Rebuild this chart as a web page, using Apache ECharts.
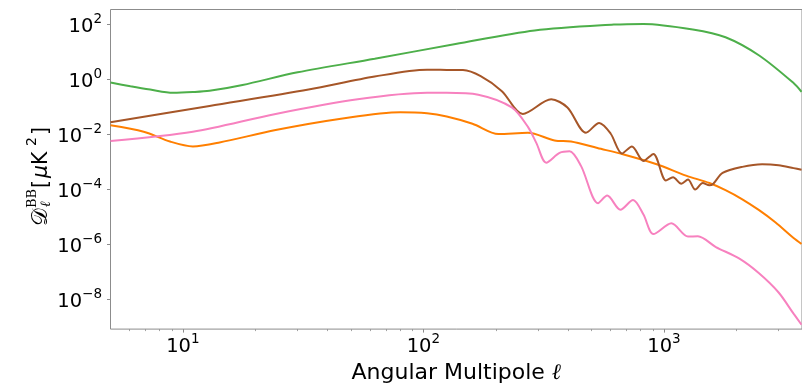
<!DOCTYPE html>
<html>
<head>
<meta charset="utf-8">
<script src="https://cdn.jsdelivr.net/npm/echarts@6/dist/echarts.min.js"></script>
<style>
  html, body { margin: 0; padding: 0; background: #fff; }
  #chart { width: 802px; height: 389px; }
</style>
</head>
<body>
<div id="chart"></div>
<script>
// Axis ranges (multipole ell and band power D_ell^BB in uK^2)
const ELL_MIN = 5;
const ELL_MAX = 3750;
const DL_MIN = 8.5e-10;
const DL_MAX = 354;

// Tick positions
const xMajorTicks = [10, 100, 1000];
const xMinorTicks = [6, 7, 8, 9, 20, 30, 40, 50, 60, 70, 80, 90,
                     200, 300, 400, 500, 600, 700, 800, 900, 2000, 3000];
const yTicks = [1e-8, 1e-6, 1e-4, 1e-2, 1, 100];

// Green spectrum
const greenEll = [5.0, 6.05, 7.31, 9.1, 11.0, 12.9, 17.7, 30.0, 62.7, 136, 290, 619, 822, 1318, 1803, 2489, 3459, 3733];
const greenDl  = [0.78, 0.573, 0.434, 0.331, 0.351, 0.390, 0.637, 1.84, 5.75, 19.6, 61.2, 100, 106, 66.6, 34.7, 7.53, 0.75, 0.36];

// Brown spectrum
const brownEll = [5.0, 12.9, 33.3, 62.7, 103.5, 125, 146, 173, 212, 259, 340, 397, 474, 538, 600, 669, 736, 822, 904,
                  1019, 1091, 1181, 1259, 1349, 1450, 1545, 1604, 1753, 2118, 2560, 2998, 3459, 3733];
const brownDl  = [0.028, 0.110, 0.434, 1.29, 2.29, 2.25, 2.22, 1.33, 0.381, 0.0565, 0.192, 0.0975, 0.0117, 0.0264,
                  0.0110, 0.00206, 0.00373, 0.00110, 0.00199, 0.000215, 0.000281, 0.000164, 0.000233, 0.000101,
                  0.000173, 0.000143, 0.000164, 0.000403, 0.000673, 0.000839, 0.000773, 0.000605, 0.000527];

// Pink spectrum
const pinkEll = [5.0, 11.0, 24.3, 53.3, 103.5, 125, 169, 233, 272, 295, 324, 368, 405, 452, 532, 581, 659, 744, 822,
                 904, 1074, 1259, 1384, 1644, 2052, 2478, 2998, 3459, 3733];
const pinkDl  = [0.00585, 0.0127, 0.0565, 0.192, 0.331, 0.331, 0.282, 0.0975, 0.0191, 0.00489, 0.000955, 0.00216,
                 0.00248, 0.000731, 3.21e-5, 6.07e-5, 1.86e-5, 4.21e-5, 1.24e-5, 2.42e-6, 5.94e-6, 1.97e-6, 2.0e-6,
                 8.18e-7, 3.15e-7, 9.27e-8, 1.82e-8, 3.09e-9, 1.23e-9];

// Orange spectrum
const orangeEll = [5.0, 6.87, 8.84, 11.0, 14.2, 24.3, 45.4, 80.2, 103.5, 125, 160, 205, 272, 351, 411, 529, 680, 933,
                   1236, 1545, 1803, 2118, 2478, 2904, 3459, 3733];
const orangeDl  = [0.0219, 0.0127, 0.00561, 0.00373, 0.00518, 0.0146, 0.0376, 0.0649, 0.0597, 0.0457, 0.0249, 0.0105,
                   0.0117, 0.00609, 0.00561, 0.00325, 0.00190, 0.000839, 0.000323, 0.000174, 9.6e-5, 4.46e-5,
                   1.83e-5, 6.55e-6, 1.75e-6, 1.07e-6];

const lg = Math.log10;
const toPairs = (ell, dl) => ell.map((l, i) => [lg(l), lg(dl[i])]);

const SPINE = '#8c8c8c';
const FONT = 'DejaVu Sans';

function powLabel(v) {
  const e = Math.round(v);
  const s = e < 0 ? '\u2212' + (-e) : String(e);
  return '{b|10}{s|' + s + '}';
}
const powRich = {
  b: { fontSize: 19.5, fontFamily: FONT, color: '#000', padding: [5, 0, 0, 0] },
  s: { fontSize: 13.5, fontFamily: FONT, color: '#000', verticalAlign: 'top' }
};

function lineSeries(name, ell, dl, color) {
  return {
    name: name,
    type: 'line',
    xAxisIndex: 0,
    yAxisIndex: 0,
    data: toPairs(ell, dl),
    showSymbol: false,
    smooth: 0.3,
    clip: true,
    lineStyle: { color: color, width: 2 },
    emphasis: { disabled: true }
  };
}

// Y-axis title, built from separate glyph runs so the sub/superscripts can stack
function glyph(x, y, text, font, align) {
  const a = align || 'left';
  return {
    type: 'text', x: x, y: y,
    style: { text: text, font: font, fill: '#000', align: a, verticalAlign: 'middle', textAlign: a, textVerticalAlign: 'middle' }
  };
}
const yTitleBase = 20.5;
const yTitle = {
  type: 'group',
  x: 48.3,
  y: 232,
  rotation: Math.PI / 2,
  silent: true,
  children: [
    glyph(24, -7.5, '\uD835\uDC9F', '22px "DejaVu Serif"', 'right'),
    glyph(24, -15.3, 'BB', '13px "DejaVu Serif"'),
    glyph(25, -1.5, '\u2113', 'italic 14px "DejaVu Serif"'),
    glyph(44, -7.1, '[', yTitleBase + 'px "DejaVu Sans"'),
    glyph(54, -7.1, '\u03BC', 'italic ' + yTitleBase + 'px "DejaVu Sans"'),
    glyph(67, -7.1, 'K', yTitleBase + 'px "DejaVu Sans"'),
    glyph(86, -16.3, '2', '14px "DejaVu Sans"'),
    glyph(97, -7.1, ']', yTitleBase + 'px "DejaVu Sans"')
  ]
};

const chart = echarts.init(document.getElementById('chart'), null, { renderer: 'canvas' });

const xCommon = {
  type: 'value',
  min: lg(ELL_MIN),
  max: lg(ELL_MAX),
  position: 'bottom',
  splitLine: { show: false },
  axisLine: { show: false, onZero: false }
};

chart.setOption({
  animation: false,
  backgroundColor: '#fff',
  grid: {
    left: 110.5,
    top: 9.5,
    width: 700,
    height: 328,
    show: true,
    borderColor: SPINE,
    borderWidth: 1,
    backgroundColor: 'transparent'
  },
  xAxis: [
    Object.assign({}, xCommon, {
      axisTick: {
        show: true, inside: false, length: 3.5,
        lineStyle: { color: SPINE, width: 1 },
        customValues: xMajorTicks.map(lg)
      },
      axisLabel: {
        show: true, margin: 3,
        customValues: xMajorTicks.map(lg),
        formatter: powLabel,
        rich: powRich
      },
      name: 'Angular Multipole {l|\u2113}',
      nameLocation: 'middle',
      nameGap: 27,
      nameTextStyle: {
        fontSize: 22, fontFamily: FONT, color: '#000',
        rich: { l: { fontSize: 22, fontFamily: 'DejaVu Serif', fontStyle: 'italic', color: '#000' } }
      }
    }),
    Object.assign({}, xCommon, {
      axisTick: {
        show: true, inside: false, length: 2,
        lineStyle: { color: SPINE, width: 0.8 },
        customValues: xMinorTicks.map(lg)
      },
      axisLabel: {
        show: true,
        customValues: xMinorTicks.map(lg),
        formatter: () => ''
      }
    })
  ],
  yAxis: [
    {
      type: 'value',
      min: lg(DL_MIN),
      max: lg(DL_MAX),
      position: 'left',
      splitLine: { show: false },
      axisLine: { show: false, onZero: false },
      axisTick: {
        show: true, inside: false, length: 3.5,
        lineStyle: { color: SPINE, width: 1 },
        customValues: yTicks.map(lg)
      },
      axisLabel: {
        show: true, margin: 8.5,
        customValues: yTicks.map(lg),
        formatter: powLabel,
        rich: powRich
      }
    }
  ],
  graphic: [yTitle],
  series: [
    lineSeries('green', greenEll, greenDl, '#4daf4a'),
    lineSeries('orange', orangeEll, orangeDl, '#ff7f00'),
    lineSeries('brown', brownEll, brownDl, '#a65628'),
    lineSeries('pink', pinkEll, pinkDl, '#f781bf')
  ]
});
</script>
</body>
</html>
